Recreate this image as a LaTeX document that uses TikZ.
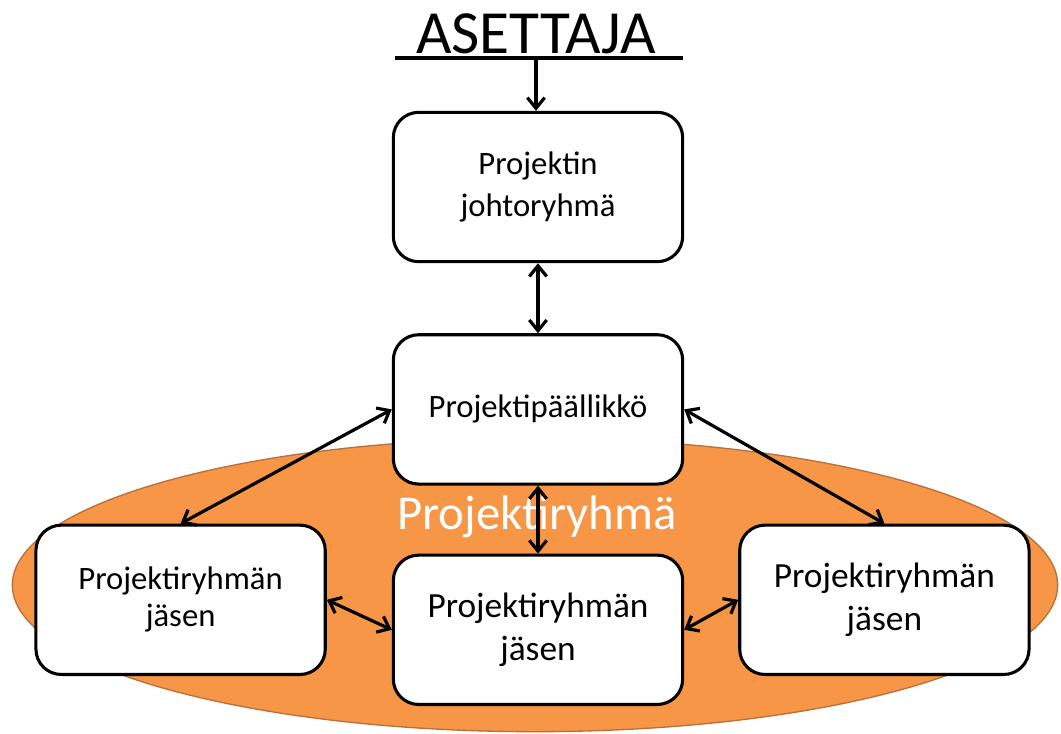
\documentclass[tikz,border=0pt]{standalone}
\usepackage{fontspec}
\setmainfont{Carlito}
\usetikzlibrary{positioning, arrows.meta}
\definecolor{teamorange}{HTML}{F79646}
\definecolor{teamedge}{HTML}{B9703A}
\tikzset{
  >={Straight Barb[length=8pt, width=13pt]},
  link/.style={<->, line width=2.4pt}, % two-way connector between boxes
  box/.style={draw, line width=2.3pt, rounded corners=19pt, fill=white, minimum width=217pt, minimum height=112pt, align=center, font=\fontsize{24.5}{31.5}\selectfont},
  bigbox/.style={box, font=\fontsize{26.5}{32.5}\selectfont} % the two members with larger text
}

\begin{document}
\begin{tikzpicture}[x=0.75pt, y=-0.75pt]
    \useasboundingbox (0,0) rectangle (1061,733);

    % the team
    \draw[teamedge, fill=teamorange, line width=1pt] (535,585) ellipse [x radius=392pt, y radius=110pt];
    \node[text=white, font=\fontsize{36.5}{40}\selectfont] (team_label) at (537,517) {Projektiryhmä};

    \node[font=\fontsize{46}{50}\selectfont, anchor=base] (asettaja) at (536,53) {ASETTAJA};
    \coordinate (line_left) at (395,58);
    \coordinate (line_right) at (683,58);
    \coordinate (line_mid) at (536,58);

    \node[box] (steering) at (538,187) {Projektin\\johtoryhmä};
    \node[box, below=52.5pt of steering] (manager) {Projektipäällikkö};
    \node[bigbox, below=51pt of manager] (member_mid) {Projektiryhmän\\jäsen};
    \node[box, left=48.75pt of member_mid, yshift=22.5pt, font=\fontsize{24.5}{27.75}\selectfont] (member_left) {Projektiryhmän\\jäsen};
    \node[bigbox, right=40.5pt of member_mid, yshift=22.5pt] (member_right) {Projektiryhmän\\jäsen};

    \draw[line width=3pt] (line_left) -- (line_right);
    \draw[->, line width=2.4pt] (line_mid) -- (line_mid |- steering.north);
    \draw
      (steering) edge[link] (manager)
      (manager) edge[link] (member_mid)
      (manager.west) edge[link] (member_left.north)
      (manager.east) edge[link] (member_right.north)
      (member_left.east) edge[link] (member_mid.west)
      (member_mid.east) edge[link] (member_right.west)
      ;
\end{tikzpicture}
\end{document}
